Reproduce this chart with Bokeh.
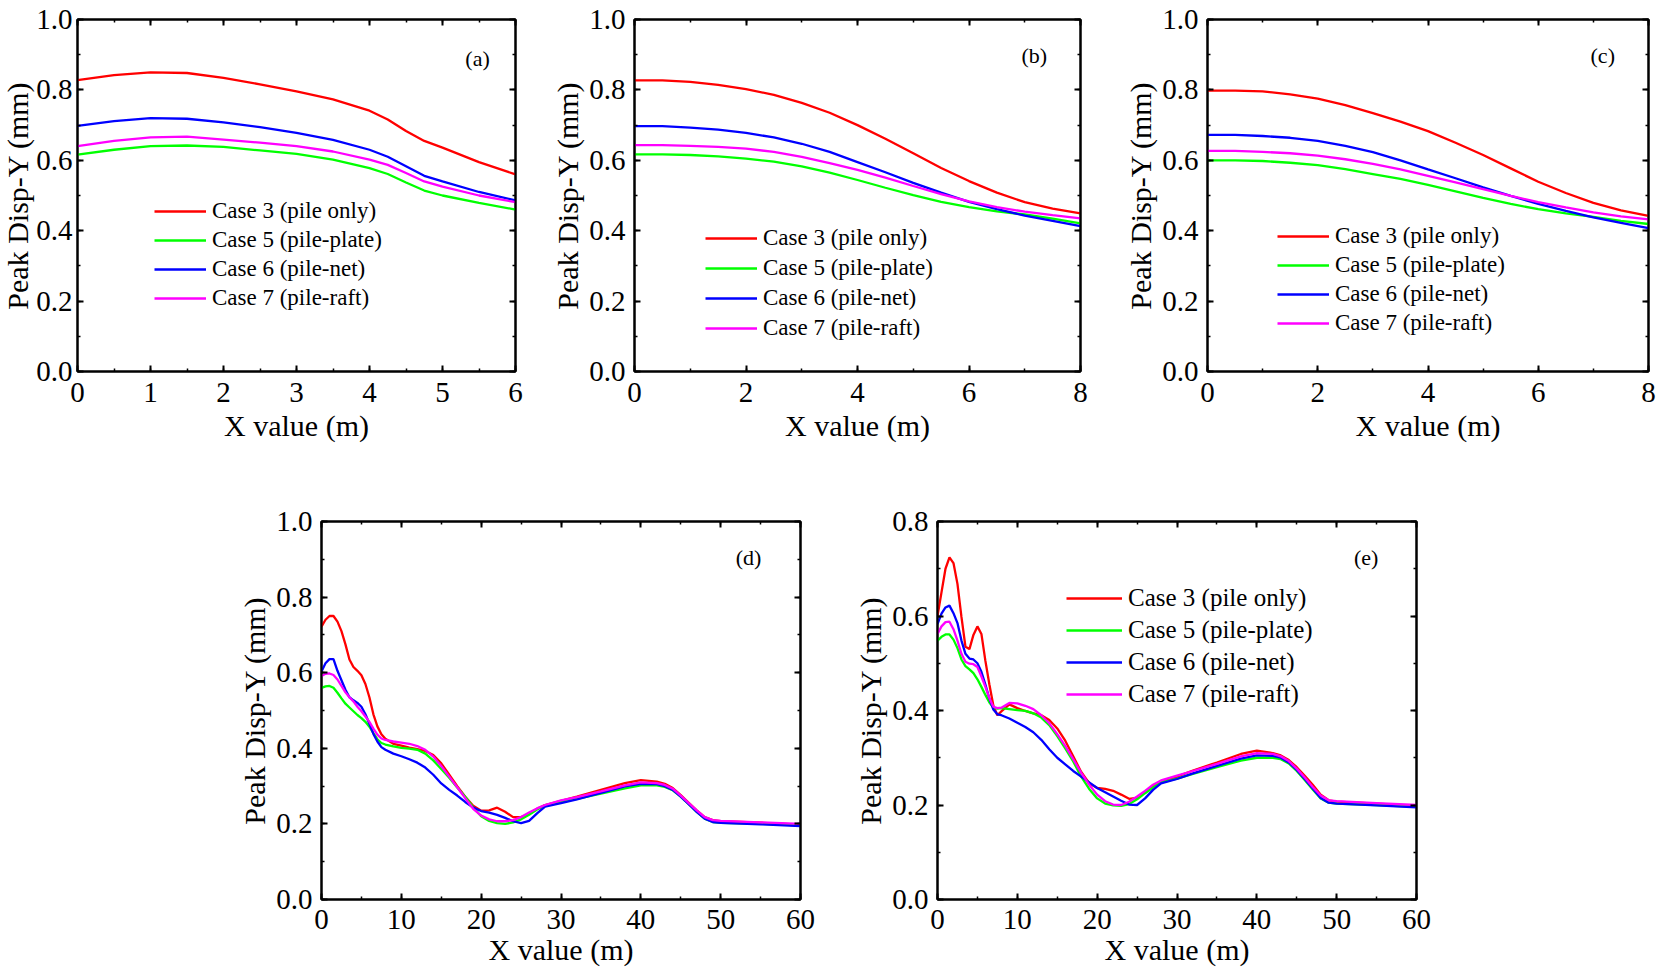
from bokeh.plotting import figure
from bokeh.models import (Range1d, LinearAxis, SingleIntervalTicker, PrintfTickFormatter,
                          CustomJSTickFormatter, Legend, LegendItem, Label, Spacer)
from bokeh.layouts import row, column
from bokeh.embed import file_html
from bokeh.resources import INLINE

FONT = "Liberation Serif"
case_names = ["Case 3 (pile only)", "Case 5 (pile-plate)", "Case 6 (pile-net)", "Case 7 (pile-raft)"]
case_colors = ["#FF0000", "#00FF00", "#0000FF", "#FF00FF"]

# ---------------- panel (a) ----------------
a_x = [0, 0.5, 1, 1.5, 2, 2.5, 3, 3.5, 4, 4.25, 4.5, 4.75, 5, 5.5, 6]
a_case3 = [0.828, 0.842, 0.850, 0.848, 0.834, 0.816, 0.796, 0.773, 0.741, 0.716, 0.683, 0.655, 0.636, 0.595, 0.560]
a_case5 = [0.616, 0.630, 0.640, 0.642, 0.638, 0.628, 0.618, 0.602, 0.578, 0.561, 0.537, 0.514, 0.500, 0.479, 0.460]
a_case6 = [0.698, 0.711, 0.720, 0.718, 0.708, 0.694, 0.678, 0.658, 0.630, 0.610, 0.583, 0.556, 0.540, 0.510, 0.486]
a_case7 = [0.640, 0.655, 0.665, 0.667, 0.659, 0.650, 0.640, 0.625, 0.602, 0.587, 0.564, 0.540, 0.525, 0.500, 0.481]

# ---------------- panel (b) ----------------
b_x = [0, 0.5, 1, 1.5, 2, 2.5, 3, 3.5, 4, 4.5, 5, 5.5, 6, 6.5, 7, 7.5, 8]
b_case3 = [0.827, 0.827, 0.823, 0.814, 0.802, 0.786, 0.763, 0.735, 0.700, 0.661, 0.620, 0.578, 0.541, 0.508, 0.481, 0.463, 0.449]
b_case5 = [0.617, 0.617, 0.615, 0.611, 0.605, 0.596, 0.583, 0.565, 0.544, 0.522, 0.501, 0.482, 0.467, 0.455, 0.446, 0.434, 0.421]
b_case6 = [0.697, 0.697, 0.693, 0.687, 0.678, 0.665, 0.647, 0.624, 0.595, 0.566, 0.536, 0.508, 0.482, 0.461, 0.443, 0.428, 0.413]
b_case7 = [0.643, 0.643, 0.641, 0.638, 0.633, 0.624, 0.610, 0.592, 0.573, 0.551, 0.527, 0.504, 0.483, 0.467, 0.454, 0.444, 0.435]

# ---------------- panel (c) ----------------
c_x = [0, 0.5, 1, 1.5, 2, 2.5, 3, 3.5, 4, 4.5, 5, 5.5, 6, 6.5, 7, 7.5, 8]
c_case3 = [0.798, 0.798, 0.796, 0.787, 0.775, 0.757, 0.734, 0.710, 0.683, 0.650, 0.615, 0.577, 0.539, 0.507, 0.479, 0.458, 0.442]
c_case5 = [0.600, 0.600, 0.598, 0.593, 0.586, 0.575, 0.561, 0.547, 0.530, 0.512, 0.493, 0.476, 0.461, 0.449, 0.439, 0.428, 0.419]
c_case6 = [0.672, 0.672, 0.669, 0.664, 0.655, 0.641, 0.623, 0.600, 0.574, 0.549, 0.523, 0.499, 0.476, 0.456, 0.438, 0.422, 0.407]
c_case7 = [0.627, 0.627, 0.624, 0.620, 0.613, 0.603, 0.590, 0.574, 0.556, 0.537, 0.518, 0.499, 0.481, 0.466, 0.452, 0.441, 0.432]

# ---------------- panels (d) and (e) ----------------
de_x = [0, 0.5, 1, 1.5, 2, 2.5, 3, 3.5, 4, 4.5, 5, 5.5, 6, 6.5, 7, 7.5, 8, 9, 10, 11, 12, 13, 14, 15,
        16, 17, 18, 19, 20, 21, 22, 23, 24, 25, 26, 27, 28, 30, 32, 35, 38, 40, 42, 43, 44, 45,
        46, 47, 48, 49, 50, 55, 60]

d_case3 = [0.722, 0.740, 0.750, 0.750, 0.735, 0.710, 0.675, 0.635, 0.615, 0.605, 0.593, 0.570, 0.535, 0.490, 0.458, 0.437, 0.425,
           0.412, 0.407, 0.402, 0.398, 0.393, 0.382, 0.360, 0.330, 0.300, 0.272, 0.248, 0.235, 0.236, 0.243, 0.232, 0.218,
           0.218, 0.226, 0.240, 0.250, 0.261, 0.272, 0.290, 0.308, 0.316, 0.312, 0.306, 0.295, 0.276, 0.256, 0.236, 0.218,
           0.210, 0.207, 0.203, 0.198]
d_case5 = [0.560, 0.564, 0.565, 0.560, 0.547, 0.532, 0.518, 0.508, 0.498, 0.488, 0.480, 0.470, 0.457, 0.440, 0.424, 0.414, 0.410,
           0.405, 0.401, 0.399, 0.396, 0.386, 0.368, 0.345, 0.322, 0.296, 0.272, 0.244, 0.220, 0.208, 0.202, 0.200, 0.204,
           0.212, 0.224, 0.238, 0.249, 0.258, 0.266, 0.280, 0.294, 0.302, 0.302, 0.298, 0.289, 0.272, 0.252, 0.232, 0.214,
           0.205, 0.203, 0.200, 0.196]
d_case6 = [0.603, 0.625, 0.636, 0.636, 0.605, 0.580, 0.555, 0.535, 0.527, 0.520, 0.510, 0.490, 0.465, 0.438, 0.418, 0.403, 0.396,
           0.386, 0.379, 0.371, 0.362, 0.349, 0.330, 0.307, 0.290, 0.275, 0.258, 0.243, 0.234, 0.230, 0.224, 0.216, 0.207,
           0.202, 0.208, 0.228, 0.246, 0.255, 0.265, 0.282, 0.299, 0.306, 0.305, 0.300, 0.290, 0.272, 0.252, 0.232, 0.214,
           0.205, 0.203, 0.199, 0.194]
d_case7 = [0.591, 0.597, 0.598, 0.594, 0.582, 0.565, 0.548, 0.535, 0.524, 0.510, 0.498, 0.484, 0.470, 0.452, 0.436, 0.426, 0.422,
           0.418, 0.415, 0.412, 0.406, 0.396, 0.378, 0.353, 0.325, 0.297, 0.268, 0.240, 0.222, 0.212, 0.207, 0.207, 0.210,
           0.218, 0.230, 0.241, 0.250, 0.262, 0.271, 0.286, 0.302, 0.310, 0.308, 0.303, 0.293, 0.275, 0.255, 0.236, 0.218,
           0.210, 0.208, 0.204, 0.200]

e_case3 = [0.600, 0.650, 0.700, 0.724, 0.712, 0.668, 0.598, 0.535, 0.530, 0.560, 0.578, 0.562, 0.505, 0.455, 0.410, 0.390, 0.398,
           0.413, 0.405, 0.399, 0.394, 0.390, 0.380, 0.362, 0.336, 0.303, 0.270, 0.246, 0.236, 0.234, 0.230, 0.222, 0.213,
           0.215, 0.228, 0.240, 0.250, 0.260, 0.273, 0.290, 0.308, 0.315, 0.310, 0.305, 0.295, 0.280, 0.262, 0.243, 0.222,
           0.210, 0.207, 0.203, 0.198]
e_case5 = [0.548, 0.556, 0.561, 0.561, 0.550, 0.532, 0.508, 0.494, 0.487, 0.479, 0.466, 0.450, 0.433, 0.417, 0.406, 0.404, 0.405,
           0.403, 0.401, 0.399, 0.394, 0.385, 0.369, 0.346, 0.320, 0.292, 0.260, 0.234, 0.214, 0.203, 0.199, 0.198, 0.202,
           0.212, 0.225, 0.237, 0.248, 0.256, 0.266, 0.280, 0.294, 0.300, 0.300, 0.297, 0.288, 0.272, 0.253, 0.233, 0.214,
           0.205, 0.203, 0.200, 0.196]
e_case6 = [0.583, 0.605, 0.618, 0.622, 0.606, 0.585, 0.548, 0.520, 0.510, 0.508, 0.500, 0.482, 0.455, 0.425, 0.402, 0.392, 0.390,
           0.383, 0.374, 0.365, 0.354, 0.338, 0.318, 0.300, 0.286, 0.272, 0.260, 0.248, 0.236, 0.227, 0.218, 0.209, 0.201,
           0.200, 0.214, 0.232, 0.246, 0.255, 0.267, 0.283, 0.298, 0.305, 0.304, 0.300, 0.290, 0.274, 0.255, 0.235, 0.215,
           0.205, 0.203, 0.199, 0.195]
e_case7 = [0.562, 0.578, 0.587, 0.588, 0.572, 0.548, 0.520, 0.503, 0.499, 0.498, 0.492, 0.472, 0.450, 0.426, 0.408, 0.405, 0.406,
           0.416, 0.415, 0.410, 0.403, 0.390, 0.373, 0.350, 0.325, 0.297, 0.268, 0.243, 0.222, 0.208, 0.201, 0.200, 0.207,
           0.218, 0.230, 0.243, 0.252, 0.262, 0.272, 0.287, 0.303, 0.310, 0.308, 0.303, 0.293, 0.277, 0.258, 0.238, 0.220,
           0.210, 0.208, 0.204, 0.200]

x_title = "X value (m)"
y_title = "Peak Disp-Y (mm)"


def style_axis(ax, ticker, fmt, label=None, visible_labels=True, label_size="29px"):
    ax.ticker = ticker
    ax.axis_line_color = "black"
    ax.axis_line_width = 2
    ax.major_tick_in = 6
    ax.major_tick_out = 0
    ax.minor_tick_in = 3
    ax.minor_tick_out = 0
    ax.major_tick_line_width = 2
    ax.minor_tick_line_width = 1.5
    ax.major_tick_line_color = "black"
    ax.minor_tick_line_color = "black"
    if visible_labels:
        ax.formatter = fmt
        ax.major_label_text_font = FONT
        ax.major_label_text_font_size = label_size
        ax.major_label_text_color = "black"
        ax.major_label_text_line_height = 1.0
    else:
        ax.formatter = CustomJSTickFormatter(code="return ''")
        ax.major_label_text_font_size = "0px"
        ax.major_label_standoff = 0
    if label:
        ax.axis_label = label
        ax.axis_label_text_font = FONT
        ax.axis_label_text_font_size = "30px"
        ax.axis_label_text_font_style = "normal"
        ax.axis_label_text_color = "black"
        ax.axis_label_text_line_height = 1.0


def make_panel(xs, ys_list, xmax, ymax, xstep, width, height, mb, tag, tag_xy, x_std, y_std=(9, 2),
               legend_xy=None, legend_font="23px", legend_row=26, legend_gap=3, glyph_w=52):
    p = figure(width=width, height=height, output_backend="svg", toolbar_location=None,
               x_range=Range1d(0, xmax), y_range=Range1d(0, ymax),
               min_border_left=mb[0], min_border_right=mb[1], min_border_top=mb[2], min_border_bottom=mb[3],
               background_fill_color="white", border_fill_color="white")
    p.xgrid.visible = False
    p.ygrid.visible = False
    p.outline_line_color = "black"
    p.outline_line_width = 2

    style_axis(p.xaxis[0], SingleIntervalTicker(interval=xstep, num_minor_ticks=2),
               PrintfTickFormatter(format="%d"), x_title)
    p.xaxis[0].major_label_standoff = x_std[0]
    p.xaxis[0].axis_label_standoff = x_std[1]
    style_axis(p.yaxis[0], SingleIntervalTicker(interval=0.2, num_minor_ticks=2),
               PrintfTickFormatter(format="%.1f"), y_title)
    p.yaxis[0].major_label_standoff = y_std[0]
    p.yaxis[0].axis_label_standoff = y_std[1]

    top = LinearAxis()
    style_axis(top, SingleIntervalTicker(interval=xstep, num_minor_ticks=2), None, visible_labels=False)
    p.add_layout(top, "above")
    right = LinearAxis()
    style_axis(right, SingleIntervalTicker(interval=0.2, num_minor_ticks=2), None, visible_labels=False)
    p.add_layout(right, "right")

    renderers = []
    for ys, col in zip(ys_list, case_colors):
        r = p.line(xs, ys, line_color=col, line_width=2.3)
        renderers.append(r)

    if legend_xy is not None:
        items = [LegendItem(label=n, renderers=[r]) for n, r in zip(case_names, renderers)]
        lg = Legend(items=items, location=legend_xy)
        lg.border_line_color = None
        lg.background_fill_alpha = 0
        lg.padding = 0
        lg.margin = 0
        lg.spacing = legend_gap
        lg.glyph_width = glyph_w
        lg.glyph_height = legend_row
        lg.label_height = legend_row
        lg.label_standoff = 6
        lg.label_text_font = FONT
        lg.label_text_font_size = legend_font
        lg.label_text_color = "black"
        p.add_layout(lg)

    p.add_layout(Label(x=tag_xy[0], y=tag_xy[1], text=tag, text_font=FONT, text_font_size="22px",
                       text_align="center", text_baseline="middle", text_color="black"))
    return p


pa = make_panel(a_x, [a_case3, a_case5, a_case6, a_case7], 6, 1.0, 1, 550, 454, (79, 33, 19, 81),
                "(a)", (5.48, 0.89), (11, 4), y_std=(5, -1), legend_xy=(77, 60))
pb = make_panel(b_x, [b_case3, b_case5, b_case6, b_case7], 8, 1.0, 2, 573, 454, (86, 41, 15, 80),
                "(b)", (7.17, 0.897), (11, 4), legend_xy=(71, 30), legend_gap=4)
pc = make_panel(c_x, [c_case3, c_case5, c_case6, c_case7], 8, 1.0, 2, 536, 454, (86, 9, 13, 83),
                "(c)", (7.17, 0.899), (11, 4), legend_xy=(70, 35))
pd = make_panel(de_x, [d_case3, d_case5, d_case6, d_case7], 60, 1.0, 10, 616, 525, (86, 51, 67, 80),
                "(d)", (53.5, 0.905), (10, 1))
pe = make_panel(de_x, [e_case3, e_case5, e_case6, e_case7], 60, 0.8, 10, 585, 525, (86, 20, 60, 80),
                "(e)", (53.7, 0.723), (10, 1), legend_xy=(129, 191), legend_font="25px", legend_row=28,
                legend_gap=4, glyph_w=56)

layout = column(row(pa, pb, pc), row(Spacer(width=237, height=10), pd, pe), margin=(0, 0, 0, -2))

open("out.html", "w").write(file_html(layout, INLINE))
